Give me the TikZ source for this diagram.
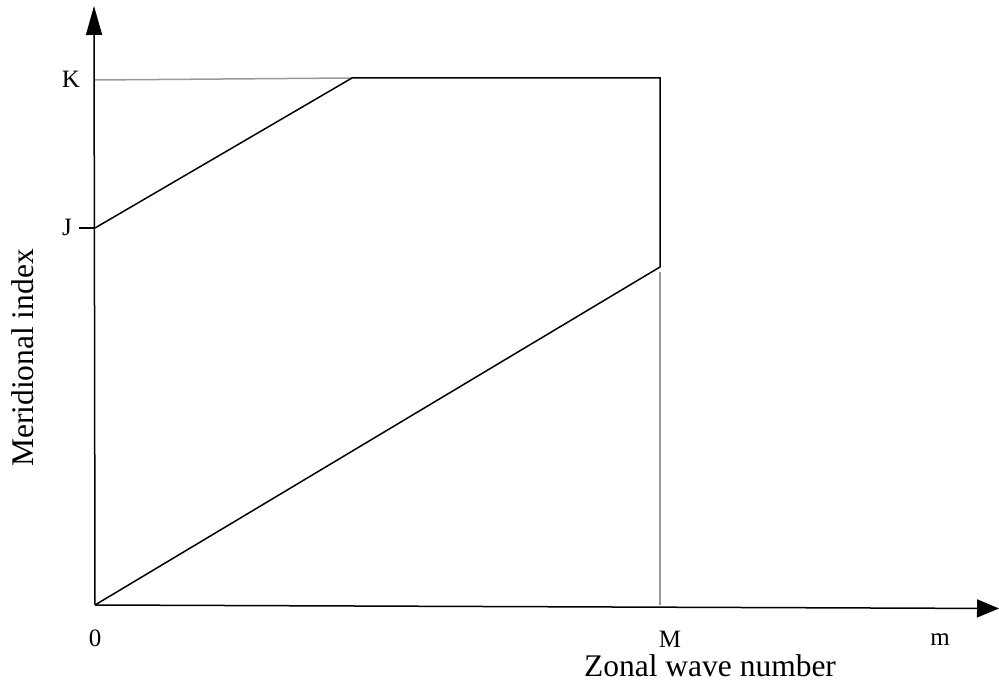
\documentclass[tikz,border=0pt]{standalone}
\usepackage{fontspec}
\setmainfont{Liberation Serif}
\usetikzlibrary{arrows.meta}
\begin{document}
\begin{tikzpicture}[x=1pt,y=1pt,
  lbl/.style={inner sep=0pt,anchor=base,font=\fontsize{25}{25}\selectfont},
  title/.style={inner sep=0pt,anchor=base,font=\fontsize{31.5}{31.5}\selectfont},
  blk/.style={line width=1.5pt,black},
  gry/.style={line width=1.5pt,black!40}]
\useasboundingbox (0,0) rectangle (999,688);
% coordinates (y = 688 - pixel row)
\coordinate (O) at (95,83);
\coordinate (Ytip) at (94,682);
\coordinate (Xtip) at (999,79.5);
\coordinate (Kax) at (95,608);
\coordinate (Jax) at (95,460);
\coordinate (Jtick) at (79,460);
\coordinate (C1) at (352,610);
\coordinate (C2) at (660,610);
\coordinate (C3) at (660,421);
\coordinate (C4) at (660,416);
\coordinate (Mx) at (660,83);
% grey guides
\draw[gry] (Kax) -- (C1);
\draw[gry] (C4) -- (Mx);
% axes
\draw[line width=1.5pt,-{Triangle[length=29pt,width=16pt]}] (O) -- (Ytip);
\draw[line width=1.5pt,-{Triangle[length=22pt,width=18pt]}] (O) -- (Xtip);
\draw[line width=2.5pt] (Jtick) -- (Jax);
% region outline
\draw[blk,line join=miter] (Jax) -- (C1) -- (C2) -- (C3) -- (O);
% labels
\node[lbl] (K) at (71,600) {K};
\node[lbl] (J) at (67,452) {J};
\node[lbl] (zero) at (95,41) {0};
\node[lbl] (M) at (670,40) {M};
\node[lbl] (m) at (940,42) {m};
\node[title] (xl) at (710,11) {Zonal wave number};
\node[title,rotate=90] (yl) at (33,330) {Meridional index};
\end{tikzpicture}
\end{document}
